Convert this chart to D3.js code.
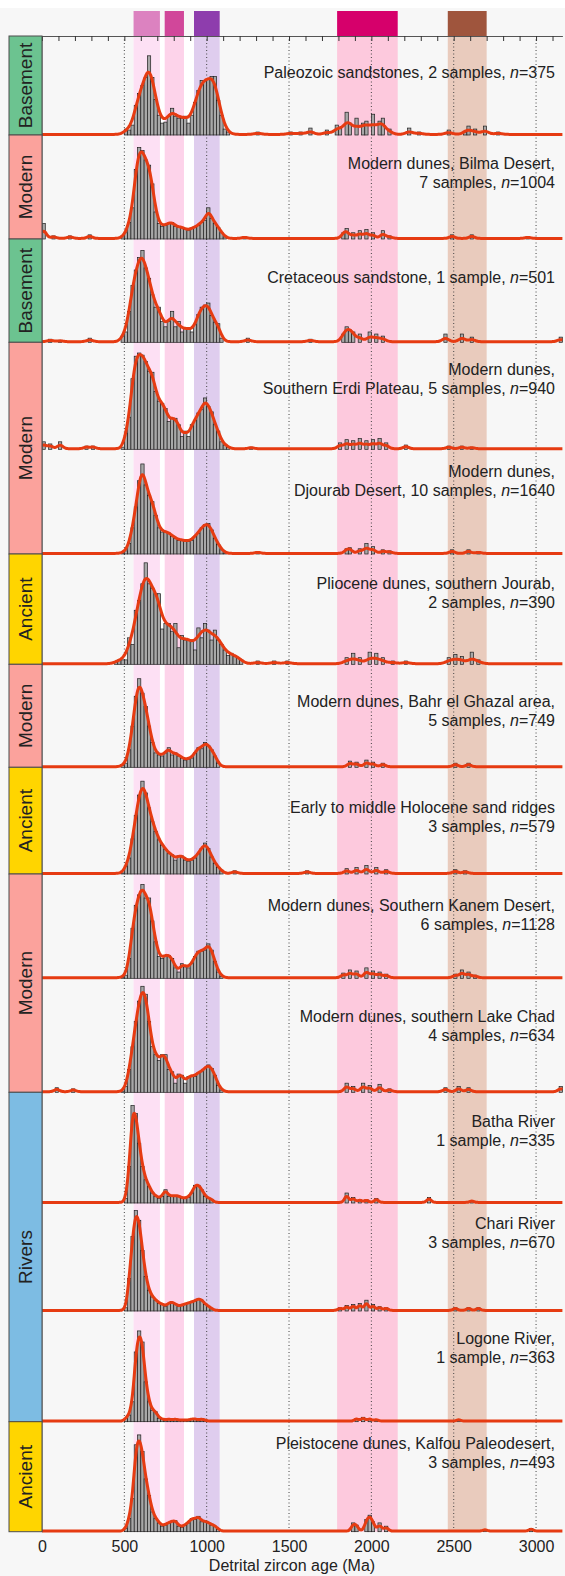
<!DOCTYPE html>
<html>
<head>
<meta charset="utf-8">
<script src="https://cdn.jsdelivr.net/npm/d3@7"></script>
<style>
body { margin: 0; background: #fff; }
text { font-family: "Liberation Sans", Arial, sans-serif; fill: #222; }
</style>
</head>
<body>
<div id="chart"></div>
<script>
// ----- data -----
// setting of each group in the left column, and which panels it spans
var groups = ["Basement", "Modern", "Basement", "Modern", "Ancient", "Modern", "Ancient", "Modern", "Rivers", "Ancient"];
var groupFirst = [0, 1, 2, 3, 5, 6, 7, 8, 10, 13];
var groupLast  = [0, 1, 2, 4, 5, 6, 7, 9, 12, 13];
var groupColors = {Basement: "#6cc390", Modern: "#fba29c", Ancient: "#ffd500", Rivers: "#7dbce3"};

var captions = [
  ["Paleozoic sandstones, 2 samples, n=375"],
  ["Modern dunes, Bilma Desert,", "7 samples, n=1004"],
  ["Cretaceous sandstone, 1 sample, n=501"],
  ["Modern dunes,", "Southern Erdi Plateau, 5 samples, n=940"],
  ["Modern dunes,", "Djourab Desert, 10 samples, n=1640"],
  ["Pliocene dunes, southern Jourab,", "2 samples, n=390"],
  ["Modern dunes, Bahr el Ghazal area,", "5 samples, n=749"],
  ["Early to middle Holocene sand ridges", "3 samples, n=579"],
  ["Modern dunes, Southern Kanem Desert,", "6 samples, n=1128"],
  ["Modern dunes, southern Lake Chad", "4 samples, n=634"],
  ["Batha River", "1 sample, n=335"],
  ["Chari River", "3 samples, n=670"],
  ["Logone River,", "1 sample, n=363"],
  ["Pleistocene dunes, Kalfou Paleodesert,", "3 samples, n=493"]
];

// histogram heights (% of panel height), 20 Ma bins starting at 440 Ma
var binStart = 440, binWidth = 20;
var paleozoicMain = [0, 0, 0, 6, 5, 10, 30, 42, 50, 58, 80, 58, 36, 20, 12, 13, 19, 27, 19, 17, 17, 19, 12, 20, 33, 45, 55, 55, 56, 59, 59, 35, 20, 6, 3];
var bilmaMain     = [0, 0, 2, 6, 16, 30, 67, 88, 85, 76, 71, 53, 26, 15, 12, 13, 15, 16, 12, 11, 11, 9, 8, 10, 11, 13, 16, 18, 30, 20, 15, 11, 6, 2];
var cretaceousMain = [0, 0, 6, 10, 30, 55, 70, 82, 89, 72, 62, 46, 34, 34, 20, 15, 20, 30, 15, 20, 10, 14, 13, 10, 17, 27, 34, 36, 38, 26, 19, 18, 4];
var erdiMain      = [0, 0, 2, 15, 30, 66, 87, 90, 88, 82, 73, 72, 54, 45, 43, 38, 26, 29, 29, 23, 12, 17, 12, 23, 27, 34, 37, 48, 40, 35, 23, 17, 7, 4, 2];
var djourabMain   = [0, 0, 1, 3, 10, 25, 45, 70, 86, 66, 56, 50, 37, 25, 21, 21, 20, 17, 15, 13, 13, 12, 12, 13, 17, 20, 25, 28, 29, 23, 15, 9, 4, 1];
var plioceneMain  = [2, 4, 4, 4, 24, 18, 49, 58, 73, 92, 73, 69, 64, 64, 32, 37, 37, 30, 37, 15, 26, 22, 22, 22, 13, 33, 24, 37, 31, 22, 31, 22, 18, 13, 8, 10, 7, 6, 4];
var ghazalMain    = [0, 0, 2, 4, 17, 40, 69, 86, 72, 59, 40, 24, 14, 12, 11, 14, 19, 12, 14, 11, 9, 7, 8, 9, 14, 19, 18, 24, 21, 17, 11, 4];
var holoceneMain  = [0, 0, 1, 7, 15, 33, 55, 74, 87, 76, 62, 49, 40, 32, 27, 23, 19, 18, 13, 17, 17, 13, 12, 13, 15, 19, 24, 29, 24, 16, 10, 6, 3];
var kanemMain     = [0, 0, 1, 3, 19, 48, 70, 80, 90, 77, 77, 55, 35, 21, 19, 22, 22, 19, 10, 6, 14, 11, 10, 14, 21, 26, 26, 27, 33, 27, 16, 6, 2];
var chadMain      = [0, 0, 1, 5, 20, 40, 62, 80, 93, 86, 62, 40, 33, 28, 33, 33, 20, 18, 8, 16, 15, 8, 14, 14, 14, 17, 18, 21, 24, 21, 15, 6, 2];
var bathaMain     = [0, 0, 0, 4, 33, 88, 81, 54, 33, 21, 15, 9, 6, 4, 6, 12, 6, 6, 6, 6, 4, 4, 5, 9, 16, 16, 12, 6, 4, 3];
var chariMain     = [0, 0, 0, 3, 30, 69, 93, 84, 56, 32, 19, 13, 10, 7, 6, 4, 7, 8, 6, 4, 5, 6, 7, 8, 9, 11, 10, 6, 4, 2];
var logoneMain    = [0, 0, 0, 3, 6, 18, 63, 82, 72, 36, 18, 10, 9, 3, 2, 1, 2, 1, 2, 1, 1, 1, 1, 2, 2, 1, 2, 1];
var kalfouMain    = [0, 0, 0, 3, 12, 30, 79, 88, 73, 48, 33, 18, 12, 8, 5, 6, 8, 9, 10, 5, 4, 6, 8, 12, 11, 14, 9, 9, 8, 6, 5, 2];

// isolated older / younger bins: [bin start (Ma), % of panel height]
var paleozoicOther = [[1300, 3], [1500, 3], [1560, 3], [1620, 7], [1720, 5], [1780, 10], [1800, 7], [1840, 23], [1860, 12], [1900, 17], [1940, 12], [1960, 14], [2000, 21], [2040, 14], [2060, 17], [2100, 6], [2220, 7], [2280, 3], [2460, 5], [2560, 3], [2580, 9], [2620, 6], [2680, 9], [2760, 3]];
var bilmaOther = [[0, 15], [60, 3], [160, 3], [280, 4], [1220, 2], [1820, 6], [1840, 10], [1880, 6], [1920, 8], [1960, 9], [2000, 6], [2060, 8], [2100, 3], [2480, 4], [2600, 4], [2940, 2]];
var cretaceousOther = [[40, 3], [100, 2], [280, 4], [1240, 4], [1620, 3], [1820, 8], [1840, 15], [1860, 12], [1880, 10], [1920, 8], [1980, 10], [2020, 8], [2060, 6], [2440, 8], [2540, 8], [2600, 5], [3140, 5]];
var erdiOther = [[0, 7], [40, 5], [100, 7], [260, 3], [300, 3], [1260, 2], [1800, 6], [1840, 9], [1880, 8], [1920, 10], [1960, 8], [2000, 9], [2040, 10], [2080, 6], [2200, 4], [2460, 3], [2540, 3], [2600, 2]];
var djourabOther = [[1300, 2], [1840, 5], [1860, 6], [1920, 5], [1960, 10], [2000, 7], [2060, 4], [2100, 3], [2480, 4], [2580, 4], [2640, 2]];
var plioceneOther = [[1300, 3], [1400, 3], [1480, 3], [1840, 6], [1880, 10], [1920, 6], [1980, 11], [2020, 10], [2060, 6], [2120, 3], [2200, 3], [2460, 6], [2500, 9], [2540, 7], [2600, 11], [2640, 4]];
var ghazalOther = [[1860, 6], [1900, 5], [1960, 7], [2000, 5], [2060, 4], [2500, 4], [2580, 4]];
var holoceneOther = [[1160, 3], [1600, 3], [1840, 5], [1900, 6], [1960, 8], [2020, 6], [2080, 4], [2500, 4], [2560, 3]];
var kanemOther = [[1820, 5], [1860, 8], [1900, 7], [1960, 10], [2000, 7], [2040, 6], [2080, 4], [2500, 4], [2540, 8], [2580, 6], [2620, 3]];
var chadOther = [[80, 4], [180, 3], [1840, 8], [1880, 5], [1940, 8], [1980, 6], [2040, 7], [2100, 3], [2440, 4], [2520, 5], [2580, 4], [3140, 5]];
var bathaOther = [[1840, 9], [1880, 5], [1920, 3], [1960, 3], [2020, 4], [2340, 5], [2600, 2]];
var chariOther = [[1800, 3], [1840, 5], [1880, 6], [1920, 7], [1960, 10], [2000, 6], [2040, 4], [2080, 3], [2500, 3], [2580, 3], [2640, 3]];
var logoneOther = [[1900, 3], [1940, 4], [1980, 3], [2020, 2], [2520, 2]];
var kalfouOther = [[1880, 8], [1900, 6], [1960, 11], [1980, 15], [2000, 9], [2040, 8], [2080, 5], [2680, 2], [2960, 3]];

var mains = [paleozoicMain, bilmaMain, cretaceousMain, erdiMain, djourabMain, plioceneMain, ghazalMain,
             holoceneMain, kanemMain, chadMain, bathaMain, chariMain, logoneMain, kalfouMain];
var others = [paleozoicOther, bilmaOther, cretaceousOther, erdiOther, djourabOther, plioceneOther, ghazalOther,
              holoceneOther, kanemOther, chadOther, bathaOther, chariOther, logoneOther, kalfouOther];

// KDE bandwidth per panel (Ma); small data sets were smoothed more
var bandwidths = [23, 17, 20, 17, 17, 24, 16, 17, 16, 16, 13, 13, 13, 14];

// orogenic age bands (Ma)
var bandFrom = [556, 745, 923, 1792, 2464];
var bandTo   = [716, 862, 1079, 2160, 2700];
var bandDark  = ["#dc82c0", "#d1479a", "#8e3dad", "#d6006b", "#9f553d"];
var bandLight = ["#fde0f4", "#fdd3ea", "#dfcdee", "#fdc9dd", "#e9cbbd"];

var ageLabels = [0, 500, 1000, 1500, 2000, 2500, 3000];

// ----- layout -----
var svgWidth = 565, svgHeight = 1576;
var plotLeft = 42, plotRight = 562.4;
var panelEdges = [36, 135, 239, 342.3, 449.3, 554, 664.3, 767.3, 874, 978.3, 1092.3, 1203, 1311, 1421.7, 1531.7];
var captionDy = [42, 34, 44, 33, 28, 35, 43, 46, 37, 44, 35, 26, 33, 27];

var svg = d3.select("#chart").append("svg")
  .attr("width", svgWidth)
  .attr("height", svgHeight);

svg.append("rect").attr("x", 0).attr("y", 8).attr("width", svgWidth).attr("height", svgHeight - 8).attr("fill", "#f7f7f7");

var x = d3.scaleLinear().domain([0, 3160]).range([plotLeft, plotRight]);
var plotTop = panelEdges[0], plotBottom = panelEdges[panelEdges.length - 1];

// white strip behind the Neoproterozoic bands
svg.append("rect")
  .attr("x", x(bandFrom[0])).attr("y", plotTop)
  .attr("width", x(bandTo[2]) - x(bandFrom[0])).attr("height", plotBottom - plotTop)
  .attr("fill", "#fff");

// light bands through all panels + dark keys above
bandFrom.forEach(function (b, i) {
  svg.append("rect")
    .attr("x", x(b)).attr("y", plotTop)
    .attr("width", x(bandTo[i]) - x(b)).attr("height", plotBottom - plotTop)
    .attr("fill", bandLight[i]);
  svg.append("rect")
    .attr("x", x(b)).attr("y", 11)
    .attr("width", x(bandTo[i]) - x(b)).attr("height", plotTop - 11)
    .attr("fill", bandDark[i]);
});

// dotted reference lines
svg.selectAll(".ref")
  .data(ageLabels.slice(1))
  .enter()
  .append("line")
  .attr("x1", d => x(d)).attr("x2", d => x(d))
  .attr("y1", plotTop).attr("y2", plotBottom)
  .attr("stroke", "#444")
  .attr("stroke-width", 1)
  .attr("stroke-dasharray", "1,2.5");

function panelBins(p) {
  var bins = mains[p].map(function (v, i) { return [binStart + i * binWidth, v]; });
  return bins.concat(others[p]).filter(d => d[1] > 0);
}

// kernel density of the binned ages (same units as the bars)
function density(bins, sigma) {
  var norm = binWidth / (sigma * Math.sqrt(2 * Math.PI));
  return d3.range(0, 3161, 5).map(function (a) {
    var s = d3.sum(bins, function (d) {
      var z = (a - (d[0] + binWidth / 2)) / sigma;
      return d[1] * norm * Math.exp(-0.5 * z * z);
    });
    return [a, s];
  });
}

mains.forEach(function (m, p) {
  var y = d3.scaleLinear().domain([0, 100]).range([panelEdges[p + 1], panelEdges[p]]);
  var g = svg.append("g");
  var bins = panelBins(p);

  g.selectAll("rect")
    .data(bins)
    .enter()
    .append("rect")
    .attr("x", d => x(d[0]))
    .attr("width", d => x(d[0] + binWidth) - x(d[0]))
    .attr("y", d => y(d[1]))
    .attr("height", d => y(0) - y(d[1]))
    .attr("fill", "#a8a8a8")
    .attr("stroke", "#1e1e1e")
    .attr("stroke-width", 0.7);

  g.append("path")
    .datum(density(bins, bandwidths[p]))
    .attr("d", d3.line().x(d => x(d[0])).y(d => y(d[1]) - 0.6).curve(d3.curveBasis))
    .attr("fill", "none")
    .attr("stroke", "#e63b12")
    .attr("stroke-width", 3)
    .attr("stroke-linejoin", "round");

  // caption, right aligned, "n" in italics
  captions[p].forEach(function (line, k) {
    var t = g.append("text")
      .attr("x", 555)
      .attr("y", panelEdges[p] + captionDy[p] + k * 19)
      .attr("text-anchor", "end")
      .style("font-size", "16px");
    var idx = line.indexOf("n=");
    if (idx < 0) { t.text(line); return; }
    t.append("tspan").text(line.slice(0, idx));
    t.append("tspan").style("font-style", "italic").text("n");
    t.append("tspan").text(line.slice(idx + 1));
  });
});

// top axis with 100 Ma ticks pointing into the plot
svg.append("g")
  .attr("transform", `translate(0, ${plotTop})`)
  .call(d3.axisBottom(x).tickValues(d3.range(0, 3160, 100)).tickSize(5).tickSizeOuter(0).tickFormat(""))
  .call(g => g.selectAll("line").attr("stroke", "#333"))
  .call(g => g.select(".domain").attr("stroke", "#555"));

svg.append("line")
  .attr("x1", plotLeft).attr("x2", plotLeft)
  .attr("y1", plotTop).attr("y2", plotBottom)
  .attr("stroke", "#555");

// bottom labels
svg.append("g")
  .attr("transform", `translate(0, ${plotBottom})`)
  .call(d3.axisBottom(x).tickValues(ageLabels).tickSize(0).tickPadding(9).tickFormat(d3.format("d")))
  .call(g => g.select(".domain").remove())
  .call(g => g.selectAll("text").style("font-size", "16px").attr("fill", "#222")
    .style("font-family", "'Liberation Sans', Arial, sans-serif"));

svg.append("text")
  .attr("x", 292)
  .attr("y", 1571)
  .attr("text-anchor", "middle")
  .style("font-size", "16px")
  .text("Detrital zircon age (Ma)");

// group column
groups.forEach(function (name, i) {
  var y0 = panelEdges[groupFirst[i]], y1 = panelEdges[groupLast[i] + 1];
  svg.append("rect")
    .attr("x", 9).attr("y", y0)
    .attr("width", plotLeft - 9).attr("height", y1 - y0)
    .attr("fill", groupColors[name])
    .attr("stroke", "#4d4d4d")
    .attr("stroke-width", 1);
  svg.append("text")
    .attr("transform", `translate(${(9 + plotLeft) / 2 + 6.5}, ${(y0 + y1) / 2}) rotate(-90)`)
    .attr("text-anchor", "middle")
    .style("font-size", "19px")
    .text(name);
});
</script>
</body>
</html>
